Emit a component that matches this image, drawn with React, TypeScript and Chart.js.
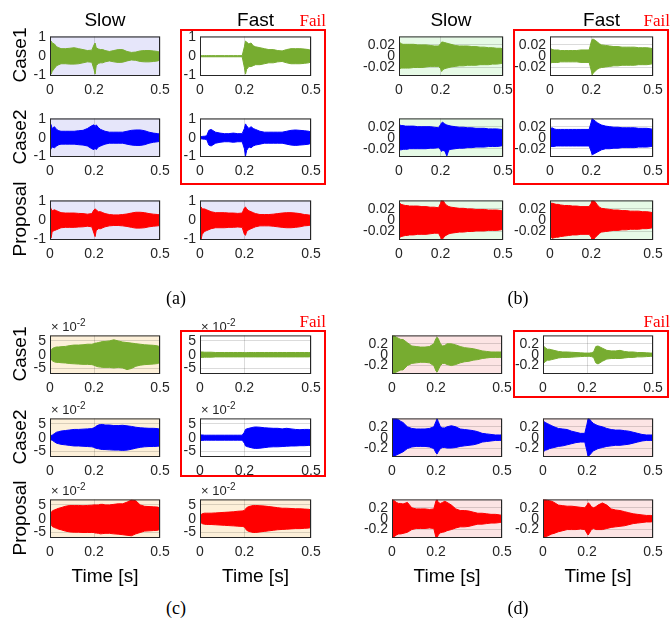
import React, { useEffect, useRef } from "react";
import { Chart, registerables } from "chart.js";

Chart.register(...registerables);

// ---------- shared axes ----------
const TIME = [0, 0.005, 0.01, 0.02, 0.03, 0.04, 0.05, 0.07, 0.09, 0.11, 0.13, 0.15, 0.17, 0.19, 0.2, 0.205, 0.21, 0.22, 0.23, 0.24, 0.25, 0.27, 0.29, 0.31, 0.33, 0.35, 0.37, 0.39, 0.41, 0.43, 0.45, 0.47, 0.49, 0.5];
const X_TICKS = [0, 0.2, 0.5];
const X_TICK_LABELS = ["0", "0.2", "0.5"];

const A_Y_TICKS = [-1, 0, 1];
const A_Y_LABELS = ["-1", "0", "1"];
const B_Y_TICKS = [-0.02, 0, 0.02];
const B_Y_LABELS = ["-0.02", "0", "0.02"];
const C_Y_TICKS = [-5, 0, 5];
const C_Y_LABELS = ["-5", "0", "5"];
const D_Y_TICKS = [-0.2, 0, 0.2];
const D_Y_LABELS = ["-0.2", "0", "0.2"];

const COL_TITLES = ["Slow", "Fast"];
const ROW_TITLES = ["Case1", "Case2", "Proposal"];

// ---------- panel (a): envelope (upper / lower) ----------
const A_SLOW_C1_HI = [0.6, 0.8, 0.7, 0.65, 0.5, 0.45, 0.4, 0.4, 0.42, 0.45, 0.4, 0.35, 0.3, 0.32, 0.6, 0.7, 0.45, 0.38, 0.35, 0.35, 0.3, 0.25, 0.3, 0.35, 0.35, 0.25, 0.2, 0.22, 0.28, 0.3, 0.3, 0.28, 0.25, 0.2];
const A_SLOW_C1_LO = [-0.7, -0.95, -0.8, -0.65, -0.5, -0.45, -0.4, -0.4, -0.42, -0.42, -0.4, -0.35, -0.3, -0.32, -0.7, -0.95, -0.5, -0.38, -0.35, -0.35, -0.3, -0.25, -0.3, -0.33, -0.32, -0.25, -0.2, -0.22, -0.28, -0.3, -0.3, -0.28, -0.25, -0.2];
const A_FAST_C1_HI = [0.03, 0.03, 0.03, 0.03, 0.03, 0.03, 0.03, 0.03, 0.03, 0.03, 0.03, 0.03, 0.03, 0.03, 0.5, 0.8, 0.75, 0.65, 0.7, 0.55, 0.5, 0.45, 0.4, 0.35, 0.35, 0.3, 0.28, 0.35, 0.4, 0.4, 0.4, 0.38, 0.35, 0.3];
const A_FAST_C1_LO = [-0.03, -0.03, -0.03, -0.03, -0.03, -0.03, -0.03, -0.03, -0.03, -0.03, -0.03, -0.03, -0.03, -0.03, -0.6, -0.95, -0.7, -0.55, -0.55, -0.5, -0.45, -0.45, -0.4, -0.35, -0.35, -0.3, -0.28, -0.35, -0.4, -0.4, -0.4, -0.38, -0.35, -0.3];
const A_SLOW_C2_HI = [0.8, 0.7, 0.5, 0.6, 0.45, 0.38, 0.35, 0.35, 0.35, 0.35, 0.38, 0.4, 0.5, 0.65, 0.7, 0.6, 0.7, 0.55, 0.45, 0.4, 0.35, 0.3, 0.3, 0.3, 0.3, 0.35, 0.4, 0.42, 0.42, 0.38, 0.3, 0.25, 0.22, 0.2];
const A_SLOW_C2_LO = [-0.7, -0.6, -0.5, -0.55, -0.45, -0.38, -0.35, -0.35, -0.35, -0.35, -0.38, -0.4, -0.45, -0.6, -0.65, -0.55, -0.65, -0.5, -0.45, -0.4, -0.35, -0.3, -0.3, -0.3, -0.3, -0.35, -0.4, -0.42, -0.42, -0.38, -0.3, -0.25, -0.22, -0.2];
const A_FAST_C2_HI = [0.06, 0.06, 0.07, 0.08, 0.1, 0.4, 0.45, 0.3, 0.25, 0.22, 0.22, 0.25, 0.22, 0.22, 0.5, 0.75, 0.65, 0.5, 0.6, 0.5, 0.45, 0.35, 0.3, 0.3, 0.3, 0.3, 0.3, 0.35, 0.4, 0.42, 0.4, 0.38, 0.35, 0.3];
const A_FAST_C2_LO = [-0.06, -0.06, -0.07, -0.08, -0.1, -0.4, -0.45, -0.3, -0.25, -0.22, -0.22, -0.25, -0.22, -0.22, -0.6, -1.0, -0.7, -0.5, -0.55, -0.45, -0.4, -0.35, -0.3, -0.3, -0.3, -0.3, -0.3, -0.35, -0.4, -0.42, -0.4, -0.38, -0.35, -0.3];
const A_SLOW_P_HI = [0.75, 0.6, 0.5, 0.55, 0.5, 0.45, 0.4, 0.38, 0.38, 0.38, 0.36, 0.35, 0.32, 0.35, 0.55, 0.6, 0.55, 0.45, 0.45, 0.4, 0.35, 0.3, 0.28, 0.28, 0.3, 0.33, 0.38, 0.42, 0.42, 0.4, 0.35, 0.32, 0.3, 0.28];
const A_SLOW_P_LO = [-0.9, -0.95, -0.6, -0.55, -0.5, -0.45, -0.4, -0.38, -0.38, -0.38, -0.36, -0.35, -0.32, -0.35, -0.7, -0.87, -0.55, -0.45, -0.45, -0.4, -0.35, -0.3, -0.28, -0.28, -0.3, -0.33, -0.38, -0.42, -0.42, -0.4, -0.35, -0.32, -0.3, -0.28];
const A_FAST_P_HI = [0.7, 0.7, 0.6, 0.6, 0.55, 0.5, 0.45, 0.4, 0.4, 0.4, 0.38, 0.38, 0.36, 0.38, 0.65, 0.7, 0.6, 0.5, 0.45, 0.4, 0.35, 0.3, 0.3, 0.3, 0.32, 0.35, 0.38, 0.4, 0.4, 0.38, 0.35, 0.3, 0.28, 0.25];
const A_FAST_P_LO = [-0.8, -1.0, -0.75, -0.6, -0.55, -0.5, -0.45, -0.4, -0.4, -0.4, -0.38, -0.38, -0.36, -0.38, -0.75, -0.8, -0.6, -0.5, -0.45, -0.4, -0.35, -0.3, -0.3, -0.3, -0.32, -0.35, -0.38, -0.4, -0.4, -0.38, -0.35, -0.3, -0.28, -0.25];

// ---------- panel (b) ----------
const B_SLOW_C1_HI = [0.022, 0.024, 0.022, 0.021, 0.021, 0.021, 0.021, 0.021, 0.02, 0.02, 0.02, 0.019, 0.018, 0.018, 0.022, 0.025, 0.025, 0.024, 0.023, 0.022, 0.021, 0.019, 0.018, 0.018, 0.018, 0.017, 0.017, 0.016, 0.016, 0.015, 0.015, 0.014, 0.014, 0.012];
const B_SLOW_C1_LO = [-0.018, -0.022, -0.021, -0.021, -0.021, -0.021, -0.021, -0.02, -0.02, -0.02, -0.019, -0.018, -0.018, -0.018, -0.022, -0.027, -0.024, -0.022, -0.021, -0.02, -0.019, -0.018, -0.017, -0.017, -0.016, -0.016, -0.016, -0.015, -0.015, -0.015, -0.014, -0.014, -0.013, -0.012];
const B_FAST_C1_HI = [0.012, 0.013, 0.012, 0.011, 0.011, 0.011, 0.01, 0.01, 0.01, 0.01, 0.01, 0.011, 0.011, 0.011, 0.025, 0.03, 0.03, 0.028, 0.025, 0.022, 0.02, 0.019, 0.018, 0.017, 0.017, 0.016, 0.016, 0.016, 0.016, 0.015, 0.015, 0.015, 0.014, 0.013];
const B_FAST_C1_LO = [-0.01, -0.012, -0.011, -0.011, -0.011, -0.011, -0.01, -0.01, -0.01, -0.01, -0.01, -0.011, -0.011, -0.011, -0.025, -0.033, -0.03, -0.026, -0.023, -0.021, -0.02, -0.019, -0.018, -0.017, -0.017, -0.016, -0.016, -0.016, -0.016, -0.015, -0.015, -0.015, -0.014, -0.013];
const B_SLOW_C2_HI = [0.022, 0.023, 0.022, 0.022, 0.021, 0.021, 0.021, 0.021, 0.02, 0.02, 0.02, 0.02, 0.019, 0.018, 0.024, 0.027, 0.028, 0.025, 0.023, 0.022, 0.021, 0.02, 0.019, 0.019, 0.018, 0.018, 0.017, 0.017, 0.017, 0.016, 0.016, 0.016, 0.015, 0.014];
const B_SLOW_C2_LO = [-0.02, -0.022, -0.022, -0.021, -0.021, -0.021, -0.02, -0.02, -0.02, -0.02, -0.02, -0.019, -0.019, -0.018, -0.022, -0.025, -0.023, -0.024, -0.033, -0.022, -0.021, -0.02, -0.019, -0.019, -0.018, -0.018, -0.017, -0.017, -0.017, -0.016, -0.016, -0.016, -0.015, -0.014];
const B_FAST_C2_HI = [0.015, 0.017, 0.018, 0.016, 0.015, 0.015, 0.015, 0.015, 0.015, 0.015, 0.015, 0.015, 0.015, 0.015, 0.028, 0.035, 0.033, 0.03, 0.027, 0.025, 0.023, 0.021, 0.02, 0.019, 0.019, 0.018, 0.018, 0.018, 0.018, 0.017, 0.017, 0.017, 0.016, 0.015];
const B_FAST_C2_LO = [-0.013, -0.016, -0.016, -0.016, -0.015, -0.015, -0.015, -0.015, -0.015, -0.015, -0.015, -0.015, -0.015, -0.015, -0.025, -0.031, -0.03, -0.028, -0.026, -0.024, -0.022, -0.02, -0.02, -0.019, -0.019, -0.018, -0.018, -0.018, -0.018, -0.017, -0.017, -0.017, -0.016, -0.015];
const B_SLOW_P_HI = [0.028, 0.03, 0.028, 0.027, 0.026, 0.026, 0.025, 0.025, 0.025, 0.024, 0.024, 0.023, 0.023, 0.022, 0.03, 0.036, 0.036, 0.03, 0.026, 0.024, 0.023, 0.022, 0.021, 0.021, 0.02, 0.02, 0.019, 0.019, 0.019, 0.018, 0.018, 0.018, 0.017, 0.016];
const B_SLOW_P_LO = [-0.028, -0.03, -0.029, -0.028, -0.027, -0.027, -0.026, -0.026, -0.025, -0.025, -0.025, -0.024, -0.023, -0.023, -0.03, -0.035, -0.033, -0.028, -0.026, -0.024, -0.023, -0.022, -0.021, -0.021, -0.02, -0.02, -0.019, -0.019, -0.019, -0.018, -0.018, -0.018, -0.017, -0.016];
const B_FAST_P_HI = [0.025, 0.03, 0.03, 0.029, 0.028, 0.028, 0.027, 0.026, 0.026, 0.025, 0.025, 0.024, 0.024, 0.024, 0.03, 0.036, 0.036, 0.032, 0.027, 0.023, 0.021, 0.02, 0.019, 0.018, 0.018, 0.017, 0.017, 0.016, 0.016, 0.016, 0.015, 0.015, 0.014, 0.013];
const B_FAST_P_LO = [-0.025, -0.03, -0.032, -0.031, -0.03, -0.03, -0.029, -0.028, -0.027, -0.026, -0.026, -0.025, -0.025, -0.025, -0.03, -0.036, -0.035, -0.03, -0.027, -0.023, -0.021, -0.02, -0.019, -0.018, -0.018, -0.017, -0.017, -0.016, -0.016, -0.016, -0.015, -0.015, -0.014, -0.013];

// ---------- panel (c) (values in units of 1e-2) ----------
const C_SLOW_C1_HI = [0.5, 1.5, 2.2, 2.6, 2.8, 2.8, 2.9, 3.0, 3.3, 3.5, 3.5, 3.6, 3.8, 3.8, 4.0, 4.2, 4.2, 4.4, 4.6, 4.8, 4.8, 5.0, 5.4, 5.0, 4.6, 4.4, 4.2, 4.0, 3.8, 3.6, 3.5, 3.4, 3.2, 2.8];
const C_SLOW_C1_LO = [-0.5, -1.5, -2.2, -2.6, -2.8, -2.8, -2.9, -3.0, -3.2, -3.3, -3.4, -3.5, -3.5, -3.6, -3.8, -4.0, -4.2, -4.4, -4.5, -4.6, -4.6, -4.6, -4.8, -4.6, -4.8, -5.4, -5.0, -4.2, -3.8, -3.6, -3.5, -3.4, -3.2, -2.8];
const C_FAST_C1_HI = [0.6, 1.0, 1.0, 0.9, 0.9, 0.9, 0.9, 0.8, 0.8, 0.8, 0.8, 0.8, 0.8, 0.8, 0.8, 0.8, 0.8, 0.8, 0.8, 0.8, 0.8, 0.8, 0.8, 0.8, 0.8, 0.8, 0.8, 0.8, 0.8, 0.8, 0.8, 0.8, 0.8, 0.7];
const C_FAST_C1_LO = [-0.6, -1.0, -1.0, -0.9, -0.9, -0.9, -0.9, -0.8, -0.8, -0.8, -0.8, -0.8, -0.8, -0.8, -0.8, -0.8, -0.8, -0.8, -0.8, -0.8, -0.8, -0.8, -0.8, -0.8, -0.8, -0.8, -0.8, -0.8, -0.8, -0.8, -0.8, -0.8, -0.8, -0.7];
const C_SLOW_C2_HI = [0.6, 0.8, 0.9, 1.5, 2.0, 2.2, 2.4, 2.6, 2.8, 3.0, 3.0, 3.1, 3.2, 3.3, 3.6, 3.8, 4.2, 4.6, 4.8, 4.8, 4.6, 4.6, 4.4, 4.4, 4.5, 4.3, 4.1, 3.8, 3.6, 3.5, 3.4, 3.4, 3.3, 3.0];
const C_SLOW_C2_LO = [-0.6, -0.8, -0.9, -1.5, -2.0, -2.2, -2.4, -2.6, -2.8, -3.0, -3.0, -3.1, -3.2, -3.3, -3.5, -3.7, -3.9, -4.0, -4.2, -4.3, -4.3, -4.4, -4.5, -4.5, -4.6, -4.5, -4.2, -3.8, -3.5, -3.3, -3.2, -3.2, -3.1, -3.0];
const C_FAST_C2_HI = [0.8, 1.0, 1.0, 0.9, 0.9, 0.9, 0.9, 0.9, 0.9, 0.9, 0.9, 0.9, 0.9, 0.9, 2.0, 3.0, 3.2, 3.4, 3.6, 3.8, 3.9, 3.8, 3.6, 3.5, 3.4, 3.4, 3.2, 3.4, 3.2, 3.0, 2.9, 3.0, 3.0, 2.8];
const C_FAST_C2_LO = [-0.8, -1.0, -1.0, -0.9, -0.9, -0.9, -0.9, -0.9, -0.9, -0.9, -0.9, -0.9, -0.9, -0.9, -2.0, -3.0, -3.2, -3.4, -3.6, -3.8, -3.9, -3.8, -3.6, -3.4, -3.3, -3.3, -3.2, -3.1, -3.0, -3.0, -2.9, -2.9, -2.8, -2.8];
const C_SLOW_P_HI = [0.5, 2.0, 2.8, 3.2, 3.5, 3.8, 4.0, 4.5, 4.8, 4.8, 4.8, 4.7, 4.8, 4.9, 5.0, 5.0, 5.0, 5.0, 5.2, 5.2, 5.0, 5.0, 5.2, 5.4, 5.4, 6.0, 6.8, 6.5, 5.0, 4.5, 4.4, 4.3, 4.2, 3.8];
const C_SLOW_P_LO = [-0.5, -2.0, -2.8, -3.2, -3.5, -3.8, -4.0, -4.5, -4.8, -4.9, -4.9, -5.0, -5.0, -5.0, -5.0, -5.2, -5.2, -5.3, -5.5, -5.4, -5.3, -5.3, -5.5, -5.6, -5.8, -6.0, -6.2, -5.5, -5.0, -4.5, -4.4, -4.3, -4.2, -3.8];
const C_FAST_P_HI = [0.5, 1.5, 1.8, 2.0, 2.0, 2.0, 2.0, 2.1, 2.2, 2.3, 2.4, 2.5, 2.7, 2.8, 3.0, 3.5, 4.0, 4.4, 4.6, 4.8, 4.8, 4.7, 4.6, 4.4, 4.2, 4.0, 3.8, 3.8, 3.7, 3.6, 3.6, 3.5, 3.4, 3.2];
const C_FAST_P_LO = [-0.5, -1.5, -1.8, -2.0, -2.1, -2.1, -2.1, -2.2, -2.3, -2.4, -2.5, -2.6, -2.7, -2.8, -3.0, -3.6, -4.2, -4.6, -4.8, -5.0, -5.0, -4.8, -4.6, -4.4, -4.2, -4.0, -3.9, -3.8, -3.7, -3.6, -3.6, -3.5, -3.4, -3.2];

// ---------- panel (d) ----------
const D_SLOW_C1_HI = [0.35, 0.35, 0.35, 0.32, 0.3, 0.28, 0.28, 0.22, 0.16, 0.15, 0.14, 0.14, 0.15, 0.2, 0.3, 0.32, 0.3, 0.2, 0.16, 0.17, 0.2, 0.2, 0.18, 0.15, 0.13, 0.12, 0.11, 0.09, 0.07, 0.06, 0.05, 0.05, 0.05, 0.05];
const D_SLOW_C1_LO = [-0.35, -0.35, -0.35, -0.32, -0.3, -0.28, -0.28, -0.2, -0.16, -0.15, -0.14, -0.14, -0.15, -0.2, -0.3, -0.32, -0.28, -0.2, -0.16, -0.16, -0.18, -0.2, -0.18, -0.15, -0.13, -0.12, -0.1, -0.09, -0.07, -0.06, -0.05, -0.05, -0.05, -0.05];
const D_FAST_C1_HI = [0.12, 0.15, 0.13, 0.1, 0.1, 0.09, 0.08, 0.06, 0.05, 0.05, 0.045, 0.04, 0.035, 0.03, 0.03, 0.03, 0.03, 0.035, 0.05, 0.15, 0.16, 0.12, 0.08, 0.07, 0.07, 0.08, 0.06, 0.05, 0.05, 0.04, 0.04, 0.035, 0.03, 0.03];
const D_FAST_C1_LO = [-0.12, -0.15, -0.13, -0.1, -0.1, -0.09, -0.08, -0.06, -0.05, -0.05, -0.045, -0.04, -0.035, -0.03, -0.03, -0.03, -0.03, -0.035, -0.05, -0.15, -0.17, -0.12, -0.08, -0.07, -0.07, -0.07, -0.06, -0.05, -0.05, -0.04, -0.04, -0.035, -0.03, -0.03];
const D_SLOW_C2_HI = [0.35, 0.35, 0.35, 0.35, 0.33, 0.3, 0.28, 0.2, 0.17, 0.16, 0.16, 0.16, 0.17, 0.2, 0.3, 0.35, 0.3, 0.2, 0.18, 0.18, 0.2, 0.22, 0.2, 0.16, 0.15, 0.14, 0.13, 0.11, 0.08, 0.07, 0.06, 0.05, 0.05, 0.05];
const D_SLOW_C2_LO = [-0.35, -0.35, -0.35, -0.32, -0.3, -0.28, -0.26, -0.2, -0.17, -0.16, -0.16, -0.16, -0.17, -0.2, -0.28, -0.3, -0.26, -0.2, -0.18, -0.18, -0.19, -0.19, -0.18, -0.16, -0.15, -0.14, -0.13, -0.11, -0.08, -0.07, -0.06, -0.05, -0.05, -0.05];
const D_FAST_C2_HI = [0.3, 0.3, 0.28, 0.26, 0.24, 0.22, 0.2, 0.17, 0.16, 0.15, 0.12, 0.1, 0.08, 0.08, 0.25, 0.35, 0.35, 0.3, 0.26, 0.24, 0.22, 0.2, 0.17, 0.15, 0.14, 0.14, 0.13, 0.12, 0.1, 0.08, 0.06, 0.05, 0.05, 0.05];
const D_FAST_C2_LO = [-0.25, -0.25, -0.23, -0.22, -0.2, -0.19, -0.18, -0.16, -0.15, -0.13, -0.11, -0.09, -0.08, -0.08, -0.25, -0.35, -0.33, -0.28, -0.24, -0.22, -0.2, -0.18, -0.16, -0.15, -0.14, -0.14, -0.13, -0.12, -0.1, -0.08, -0.06, -0.05, -0.05, -0.05];
const D_SLOW_P_HI = [0.35, 0.35, 0.33, 0.3, 0.28, 0.28, 0.27, 0.3, 0.2, 0.18, 0.18, 0.18, 0.17, 0.18, 0.33, 0.35, 0.3, 0.28, 0.3, 0.32, 0.3, 0.25, 0.18, 0.15, 0.15, 0.14, 0.12, 0.1, 0.1, 0.09, 0.08, 0.08, 0.07, 0.06];
const D_SLOW_P_LO = [-0.35, -0.35, -0.33, -0.3, -0.28, -0.28, -0.27, -0.25, -0.2, -0.18, -0.18, -0.18, -0.17, -0.18, -0.35, -0.35, -0.3, -0.26, -0.25, -0.24, -0.22, -0.2, -0.17, -0.15, -0.15, -0.14, -0.12, -0.1, -0.1, -0.09, -0.08, -0.08, -0.07, -0.06];
const D_FAST_P_HI = [0.35, 0.35, 0.35, 0.34, 0.33, 0.32, 0.3, 0.25, 0.24, 0.23, 0.23, 0.22, 0.21, 0.2, 0.25, 0.29, 0.28, 0.22, 0.2, 0.22, 0.25, 0.29, 0.25, 0.18, 0.16, 0.15, 0.13, 0.11, 0.09, 0.08, 0.07, 0.06, 0.06, 0.05];
const D_FAST_P_LO = [-0.33, -0.35, -0.33, -0.32, -0.3, -0.28, -0.27, -0.24, -0.22, -0.2, -0.2, -0.2, -0.19, -0.2, -0.27, -0.3, -0.27, -0.2, -0.18, -0.2, -0.2, -0.2, -0.18, -0.16, -0.15, -0.14, -0.13, -0.11, -0.09, -0.08, -0.07, -0.06, -0.06, -0.05];

// ---------- styles ----------
const GREEN = "#77ac30";
const BLUE = "#0000ff";
const RED = "#ff0000";
const WHITE = "#ffffff";
const BG_A = "#e6e6fa";
const BG_B = "#e6fae6";
const BG_C = "#fdf0d9";
const BG_D = "#fce4e4";
const AX = "#262626";
const GRID = "rgba(0,0,0,0.14)";
const SANS = "'Liberation Sans', Arial, Helvetica, sans-serif";
const SERIF = "'Liberation Serif', 'Times New Roman', serif";
const TICK_SIZE = 14;
const LABEL_SIZE = 19;

const PAD_L = 48;
const PAD_T = 10;
const PAD_R = 16;
const PAD_B = 26;

type Spec = {
  id: string;
  hi: number[];
  lo: number[];
  color: string;
  bg: string;
  ymax: number;
  yTicks: number[];
  yLabels: string[];
  L: number;
  T: number;
  R: number;
  B: number;
};

const COLS_AC: number[][] = [[50, 160], [200, 311]];
const COLS_B: number[][] = [[399, 503], [550, 653]];
const COLS_D: number[][] = [[392, 502], [543, 653]];
const ROWS_AB: number[][] = [[34, 76], [116, 157], [198, 240]];
const ROWS_CD: number[][] = [[333, 374], [416, 457], [497, 538]];

function makePanel(
  id: string,
  los: number[][][],
  his: number[][][],
  cols: number[][],
  rows: number[][],
  bgs: string[][],
  ymax: number,
  yTicks: number[],
  yLabels: string[]
): Spec[] {
  const colors = [GREEN, BLUE, RED];
  const out: Spec[] = [];
  for (let r = 0; r < 3; r++) {
    for (let c = 0; c < 2; c++) {
      out.push({
        id: `${id}-${r}-${c}`,
        hi: his[r][c],
        lo: los[r][c],
        color: colors[r],
        bg: bgs[r][c],
        ymax,
        yTicks,
        yLabels,
        L: cols[c][0],
        R: cols[c][1],
        T: rows[r][0],
        B: rows[r][1],
      });
    }
  }
  return out;
}

const SPECS: Spec[] = [
  ...makePanel(
    "a",
    [[A_SLOW_C1_LO, A_FAST_C1_LO], [A_SLOW_C2_LO, A_FAST_C2_LO], [A_SLOW_P_LO, A_FAST_P_LO]],
    [[A_SLOW_C1_HI, A_FAST_C1_HI], [A_SLOW_C2_HI, A_FAST_C2_HI], [A_SLOW_P_HI, A_FAST_P_HI]],
    COLS_AC, ROWS_AB,
    [[BG_A, WHITE], [BG_A, WHITE], [BG_A, BG_A]],
    1.05, A_Y_TICKS, A_Y_LABELS
  ),
  ...makePanel(
    "b",
    [[B_SLOW_C1_LO, B_FAST_C1_LO], [B_SLOW_C2_LO, B_FAST_C2_LO], [B_SLOW_P_LO, B_FAST_P_LO]],
    [[B_SLOW_C1_HI, B_FAST_C1_HI], [B_SLOW_C2_HI, B_FAST_C2_HI], [B_SLOW_P_HI, B_FAST_P_HI]],
    COLS_B, ROWS_AB,
    [[BG_B, WHITE], [BG_B, WHITE], [BG_B, BG_B]],
    0.035, B_Y_TICKS, B_Y_LABELS
  ),
  ...makePanel(
    "c",
    [[C_SLOW_C1_LO, C_FAST_C1_LO], [C_SLOW_C2_LO, C_FAST_C2_LO], [C_SLOW_P_LO, C_FAST_P_LO]],
    [[C_SLOW_C1_HI, C_FAST_C1_HI], [C_SLOW_C2_HI, C_FAST_C2_HI], [C_SLOW_P_HI, C_FAST_P_HI]],
    COLS_AC, ROWS_CD,
    [[BG_C, WHITE], [BG_C, WHITE], [BG_C, BG_C]],
    7, C_Y_TICKS, C_Y_LABELS
  ),
  ...makePanel(
    "d",
    [[D_SLOW_C1_LO, D_FAST_C1_LO], [D_SLOW_C2_LO, D_FAST_C2_LO], [D_SLOW_P_LO, D_FAST_P_LO]],
    [[D_SLOW_C1_HI, D_FAST_C1_HI], [D_SLOW_C2_HI, D_FAST_C2_HI], [D_SLOW_P_HI, D_FAST_P_HI]],
    COLS_D, ROWS_CD,
    [[BG_D, WHITE], [BG_D, BG_D], [BG_D, BG_D]],
    0.355, D_Y_TICKS, D_Y_LABELS
  ),
];

function framePlugin(bg: string) {
  return {
    id: "frame",
    beforeDraw(chart: any) {
      const { ctx, chartArea: a } = chart;
      ctx.save();
      ctx.fillStyle = bg;
      ctx.fillRect(a.left, a.top, a.right - a.left, a.bottom - a.top);
      ctx.restore();
    },
    afterDraw(chart: any) {
      const { ctx, chartArea: a } = chart;
      ctx.save();
      ctx.strokeStyle = AX;
      ctx.lineWidth = 1;
      ctx.strokeRect(a.left + 0.5, a.top + 0.5, a.right - a.left - 1, a.bottom - a.top - 1);
      ctx.restore();
    },
  };
}

function Subplot({ spec }: { spec: Spec }) {
  const ref = useRef<HTMLCanvasElement>(null);
  const w = spec.R - spec.L + PAD_L + PAD_R;
  const h = spec.B - spec.T + PAD_T + PAD_B;
  useEffect(() => {
    if (!ref.current) return;
    const upper = TIME.map((t, i) => ({ x: t, y: spec.hi[i] }));
    const lower = TIME.map((t, i) => ({ x: t, y: spec.lo[i] }));
    const tickFont = { family: SANS, size: TICK_SIZE };
    const chart = new Chart(ref.current, {
      type: "line",
      data: {
        datasets: [
          { data: upper, borderColor: spec.color, backgroundColor: spec.color, borderWidth: 1, pointRadius: 0, fill: "+1", tension: 0 },
          { data: lower, borderColor: spec.color, backgroundColor: spec.color, borderWidth: 1, pointRadius: 0, fill: false, tension: 0 },
        ],
      },
      options: {
        animation: false,
        responsive: false,
        devicePixelRatio: 1,
        events: [],
        layout: { padding: { left: 0, top: PAD_T, right: PAD_R, bottom: 0 } },
        plugins: { legend: { display: false }, tooltip: { enabled: false } },
        scales: {
          x: {
            type: "linear",
            min: 0,
            max: 0.5,
            afterBuildTicks: (s: any) => {
              s.ticks = X_TICKS.map((v) => ({ value: v }));
            },
            afterFit: (s: any) => {
              s.height = PAD_B;
            },
            ticks: {
              autoSkip: false,
              maxRotation: 0,
              padding: 6,
              color: AX,
              font: tickFont,
              callback: (_v: any, i: number) => X_TICK_LABELS[i],
            },
            grid: { color: GRID, drawTicks: false, lineWidth: 1 },
            border: { display: false },
          },
          y: {
            type: "linear",
            min: -spec.ymax,
            max: spec.ymax,
            afterBuildTicks: (s: any) => {
              s.ticks = spec.yTicks.map((v) => ({ value: v }));
            },
            afterFit: (s: any) => {
              s.width = PAD_L;
            },
            ticks: {
              autoSkip: false,
              padding: 4,
              color: AX,
              font: tickFont,
              callback: (_v: any, i: number) => spec.yLabels[i],
            },
            grid: { color: GRID, drawTicks: false, lineWidth: 1 },
            border: { display: false },
          },
        },
      },
      plugins: [framePlugin(spec.bg)],
    } as any);
    return () => chart.destroy();
  }, [spec]);
  return (
    <canvas
      ref={ref}
      width={w}
      height={h}
      style={{ position: "absolute", left: spec.L - PAD_L, top: spec.T - PAD_T, width: w, height: h }}
    />
  );
}

function Label(props: { x: number; y: number; text: string; size: number; font?: string; color?: string; rotate?: boolean }) {
  const { x, y, text, size, font = SANS, color = "#000", rotate = false } = props;
  return (
    <div
      style={{
        position: "absolute",
        left: x,
        top: y,
        transform: `translate(-50%, -50%)${rotate ? " rotate(-90deg)" : ""}`,
        fontFamily: font,
        fontSize: size,
        color,
        lineHeight: 1,
        whiteSpace: "nowrap",
      }}
    >
      {text}
    </div>
  );
}

function Sci({ x, y }: { x: number; y: number }) {
  return (
    <div
      style={{
        position: "absolute",
        left: x,
        top: y,
        fontFamily: SANS,
        fontSize: 13,
        color: AX,
        lineHeight: 1,
        whiteSpace: "nowrap",
      }}
    >
      {"\u00d7 10"}
      <span style={{ fontSize: 10, position: "relative", top: -5 }}>-2</span>
    </div>
  );
}

function FailBox({ l, t, r, b }: { l: number; t: number; r: number; b: number }) {
  return (
    <div
      style={{
        position: "absolute",
        left: l,
        top: t,
        width: r - l,
        height: b - t,
        border: `2px solid ${RED}`,
        boxSizing: "border-box",
      }}
    />
  );
}

function Fail({ right, y }: { right: number; y: number }) {
  return (
    <div
      style={{
        position: "absolute",
        right: 670 - right,
        top: y,
        transform: "translateY(-50%)",
        fontFamily: SERIF,
        fontSize: 17,
        color: RED,
        lineHeight: 1,
      }}
    >
      Fail
    </div>
  );
}

export default function App() {
  return (
    <div style={{ position: "absolute", left: 0, top: 0, width: 670, height: 620, background: "#fff", overflow: "hidden" }}>
      {SPECS.map((s) => (
        <Subplot key={s.id} spec={s} />
      ))}

      {/* column titles */}
      <Label x={105} y={19} text={COL_TITLES[0]} size={LABEL_SIZE} />
      <Label x={255.5} y={19} text={COL_TITLES[1]} size={LABEL_SIZE} />
      <Label x={451} y={19} text={COL_TITLES[0]} size={LABEL_SIZE} />
      <Label x={601.5} y={19} text={COL_TITLES[1]} size={LABEL_SIZE} />

      {/* row titles */}
      {ROWS_AB.map((r, i) => (
        <Label key={"ra" + i} x={19} y={(r[0] + r[1]) / 2} text={ROW_TITLES[i]} size={LABEL_SIZE} rotate />
      ))}
      {ROWS_CD.map((r, i) => (
        <Label key={"rc" + i} x={19} y={(r[0] + r[1]) / 2} text={ROW_TITLES[i]} size={LABEL_SIZE} rotate />
      ))}

      {/* x10^-2 exponents for panel (c) */}
      {ROWS_CD.map((r, i) =>
        COLS_AC.map((c, j) => <Sci key={`sci${i}${j}`} x={c[0] + 1} y={r[0] - 13} />)
      )}

      {/* time labels */}
      <Label x={105} y={575} text="Time [s]" size={LABEL_SIZE} />
      <Label x={255.5} y={575} text="Time [s]" size={LABEL_SIZE} />
      <Label x={447} y={575} text="Time [s]" size={LABEL_SIZE} />
      <Label x={598} y={575} text="Time [s]" size={LABEL_SIZE} />

      {/* fail boxes */}
      <FailBox l={180} t={29} r={326} b={185} />
      <FailBox l={513} t={29} r={669} b={185} />
      <FailBox l={180} t={330} r={326} b={477} />
      <FailBox l={513} t={330} r={669} b={398} />
      <Fail right={326} y={20} />
      <Fail right={670} y={20} />
      <Fail right={326} y={321} />
      <Fail right={670} y={321} />

      {/* panel labels */}
      <Label x={176} y={298} text="(a)" size={18} font={SERIF} />
      <Label x={518} y={298} text="(b)" size={18} font={SERIF} />
      <Label x={176} y={608} text="(c)" size={18} font={SERIF} />
      <Label x={518} y={608} text="(d)" size={18} font={SERIF} />
    </div>
  );
}
